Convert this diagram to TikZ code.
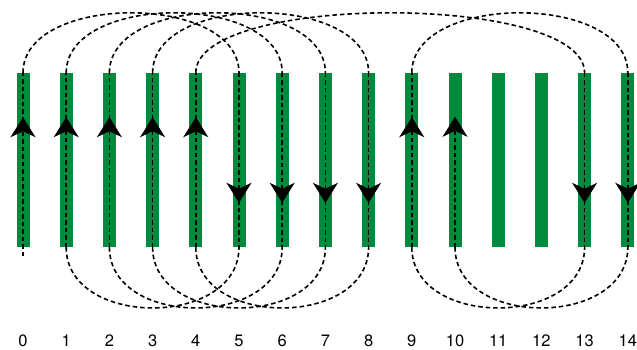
\documentclass[tikz,border=0pt]{standalone}
\usepackage{fontspec}
\setmainfont{TeX Gyre Heros}
\usetikzlibrary{arrows.meta,decorations.markings}
\definecolor{slotgreen}{RGB}{0,138,62}

\begin{document}
\begin{tikzpicture}[x=1pt,y=1pt,
  >={Stealth[length=20pt,width=25pt,inset=6pt]},
  slot/.style={rectangle,fill=slotgreen,minimum width=13pt,minimum height=174pt,inner sep=0pt},
  num/.style={font=\fontsize{16.5}{18}\selectfont},
  wire/.style={line width=1.6pt,dash pattern=on 4.5pt off 3pt},
  flow/.style={postaction={decorate},decoration={markings,mark=at position #1 with {\arrow{>}}}},
  flow/.default=130pt]
\useasboundingbox (0,0) rectangle (637,349);
% Slots and their numbers
\foreach \k in {0,...,14} {
  \node[slot] (bar\k) at (23+43.2*\k,189) {};
  \node[num] (num\k) at (23+43.2*\k,8) {\k};
}
\coordinate (lead0) at ([yshift=-9pt]bar0.south);
\coordinate (lead10) at ([yshift=-44pt]bar10.north);
% Top end connections
\foreach \a/\b in {0/5,1/6,2/7,3/8,4/13,9/14}
  \draw[wire] (bar\a.north) .. controls +(0,80) and +(0,80) .. (bar\b.north);
% Bottom end connections
\foreach \a/\b in {1/5,2/6,3/7,4/8,9/13,10/14}
  \draw[wire] (bar\a.south) .. controls +(0,-81) and +(0,-81) .. (bar\b.south);
% Conductors: upwards
\draw[wire,flow=139pt] (lead0) -- (bar0.north);
\foreach \k in {1,2,3,4,9}
  \draw[wire,flow] (bar\k.south) -- (bar\k.north);
\draw[wire,->] (bar10.south) -- (lead10);
% Conductors: downwards
\foreach \k in {5,6,7,8,13,14}
  \draw[wire,flow] (bar\k.north) -- (bar\k.south);
\end{tikzpicture}
\end{document}
